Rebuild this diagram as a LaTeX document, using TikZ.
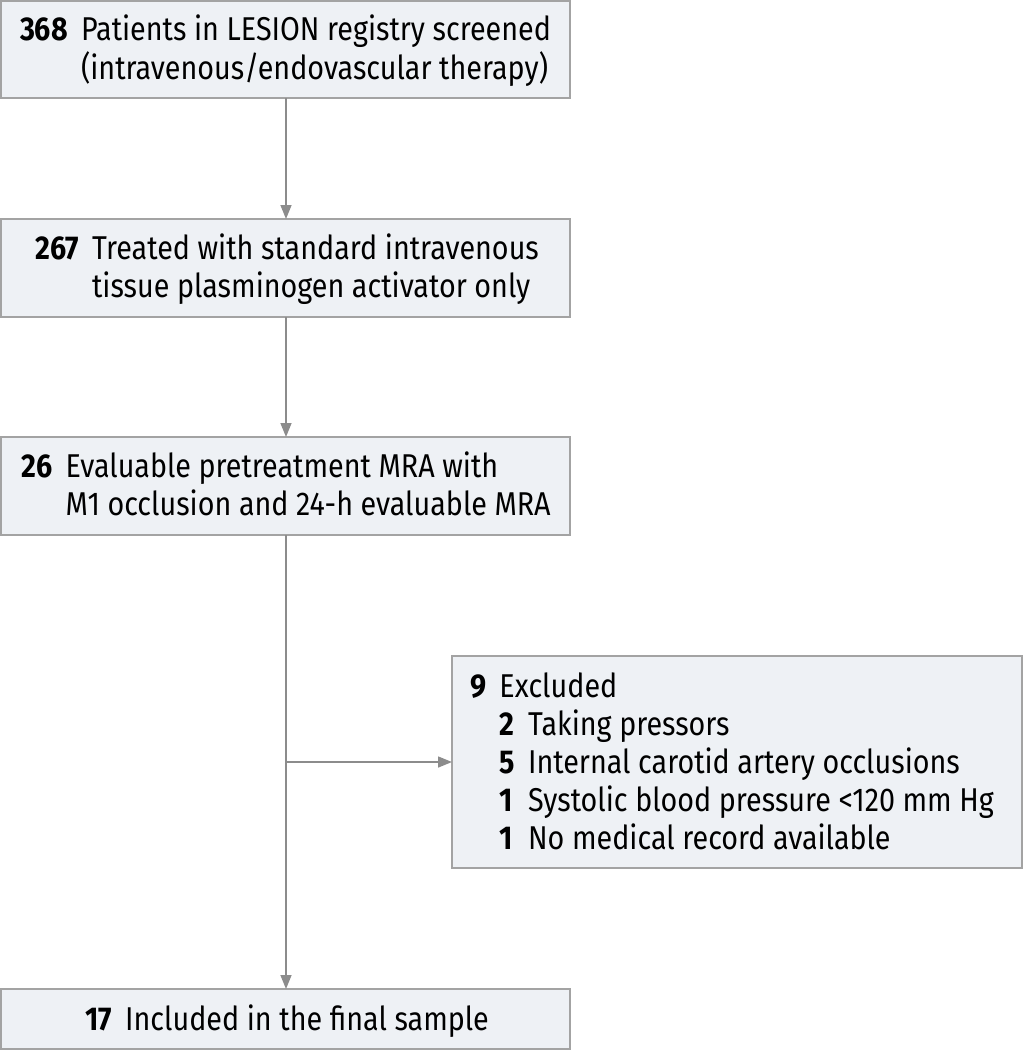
\documentclass[tikz,border=0pt]{standalone}
\usepackage{fontspec}
\setmainfont{Fira Sans}[FakeStretch=0.87]
\usetikzlibrary{arrows.meta}
\definecolor{boxfill}{HTML}{EEF1F5}
\definecolor{boxline}{HTML}{A3A3A3}
\definecolor{arrowcol}{HTML}{8C8C8C}
\tikzset{
  flowbox/.style={draw=boxline, line width=1.5pt, fill=boxfill, inner sep=0pt},
  conn/.style={draw=arrowcol, line width=1.5pt},
  arr/.style={conn, -{Triangle[length=14pt,width=11pt]}},
  txt/.style={inner sep=0pt, font=\fontsize{33}{38}\selectfont, align=left}
}
\begin{document}
\begin{tikzpicture}[x=1pt,y=-1pt]
\useasboundingbox (0,0) rectangle (1024,1050);
% boxes
\path[flowbox] (1,1) rectangle (570,98);
\path[flowbox] (1,219) rectangle (570,317);
\path[flowbox] (1,437) rectangle (570,535);
\path[flowbox] (452,656) rectangle (1022,868);
\path[flowbox] (1,989) rectangle (570,1049);
\coordinate (b1s) at (286,98);
\coordinate (b2n) at (286,219);
\coordinate (b2s) at (286,317);
\coordinate (b3n) at (286,437);
\coordinate (b3s) at (286,535);
\coordinate (b5n) at (286,989);
\coordinate (br) at (286,762);
\coordinate (b4w) at (452,762);
% texts
\node[txt] (t1) at (285.5,52.5) {\begin{tabular}{@{}l@{\hspace{0.4em}}l@{}}\textbf{368} & Patients in LESION registry screened\\ & (intravenous/endovascular therapy)\end{tabular}};
\node[txt] (t2) at (287,271) {\begin{tabular}{@{}l@{\hspace{0.4em}}l@{}}\textbf{267} & Treated with standard intravenous\\ & tissue plasminogen activator only\end{tabular}};
\node[txt] (t3) at (286,489) {\begin{tabular}{@{}l@{\hspace{0.4em}}l@{}}\textbf{26} & Evaluable pretreatment MRA with\\ & M1 occlusion and 24-h evaluable MRA\end{tabular}};
\node[txt, anchor=north west] (t4) at (470,671) {\begin{tabular}{@{}l@{\hspace{0.4em}}l@{\hspace{0.4em}}l@{}}\textbf{9} & \multicolumn{2}{@{}l@{}}{Excluded}\\
 & \textbf{2} & Taking pressors\\
 & \textbf{5} & Internal carotid artery occlusions\\
 & \textbf{1} & Systolic blood pressure <120 mm Hg\\
 & \textbf{1} & No medical record available\end{tabular}};
\node[txt] (t5) at (287,1021) {\textbf{17}\hspace{0.4em}Included in the final sample};
% connectors
\draw[arr] (b1s) -- (b2n);
\draw[arr] (b2s) -- (b3n);
\draw[arr] (b3s) -- (b5n);
\draw[arr] (br) -- (b4w);
\end{tikzpicture}
\end{document}
